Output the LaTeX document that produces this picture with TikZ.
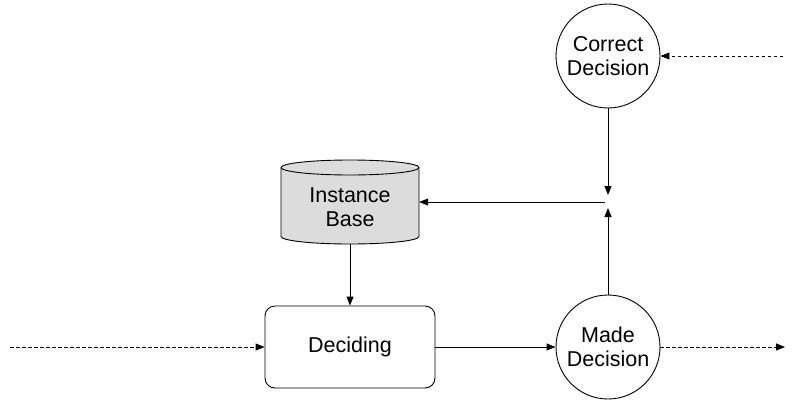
\documentclass[tikz,border=0pt]{standalone}
\usepackage{fontspec}
\setmainfont{Liberation Sans}
\usetikzlibrary{arrows.meta}

\definecolor{basefill}{HTML}{DCDCDC}

\tikzset{
  state/.style={circle, draw, line width=0.9pt, minimum size=104pt, inner sep=0pt,
                align=center, font=\fontsize{21.5}{24}\selectfont},
  procbox/.style={rectangle, draw, line width=0.9pt, rounded corners=10pt,
                  minimum width=170pt, minimum height=82pt, inner sep=0pt,
                  font=\fontsize{21.5}{24}\selectfont},
  storebox/.style={rectangle, minimum width=138pt, minimum height=84pt, inner sep=0pt},
  storetext/.style={align=center, font=\fontsize{21.5}{24}\selectfont},
  link/.style={line width=0.9pt, -{Triangle[length=9pt,width=7pt]}},
  dlink/.style={link, dash pattern=on 3.5pt off 2.5pt}
}

\begin{document}
\begin{tikzpicture}[x=1pt, y=-1pt]
  \useasboundingbox (0,0) rectangle (795,402);

  % states
  \node[state] (cd) at (608,56) {Correct\\Decision};
  \node[state] (md) at (608,347) {Made\\Decision};

  % process
  \node[procbox] (dec) at (350,347) {Deciding};

  % instance base store (cylinder)
  \node[storebox] (ib) at (350,202) {};
  \filldraw[fill=basefill, line width=0.9pt]
    (281,167.5) -- (281,236.5)
    arc[start angle=180, end angle=360, x radius=69pt, y radius=7.5pt]
    -- (419,167.5)
    arc[start angle=0, end angle=180, x radius=69pt, y radius=7.5pt] -- cycle;
  \draw[line width=0.9pt] (281,167.5)
    arc[start angle=180, end angle=360, x radius=69pt, y radius=7.5pt];
  \node[storetext] (ibt) at (350,207) {Instance\\Base};

  % junction points
  \coordinate (jdown) at (608,195);
  \coordinate (jup) at (608,208);
  \coordinate (jmid) at (605,202);
  \coordinate (inp) at (10,347);
  \coordinate (outp) at (785,347);
  \coordinate (cinp) at (783,56);

  % connectors
  \draw[link] (cd.south) -- (jdown);
  \draw[link] (md.north) -- (jup);
  \draw[link] (jmid) -- (ib.east);
  \draw[link] (ib.south) -- (dec.north);
  \draw[link] (dec.east) -- (md.west);
  \draw[dlink] (inp) -- (dec.west);
  \draw[dlink] (md.east) -- (outp);
  \draw[dlink] (cinp) -- (cd.east);
\end{tikzpicture}
\end{document}
